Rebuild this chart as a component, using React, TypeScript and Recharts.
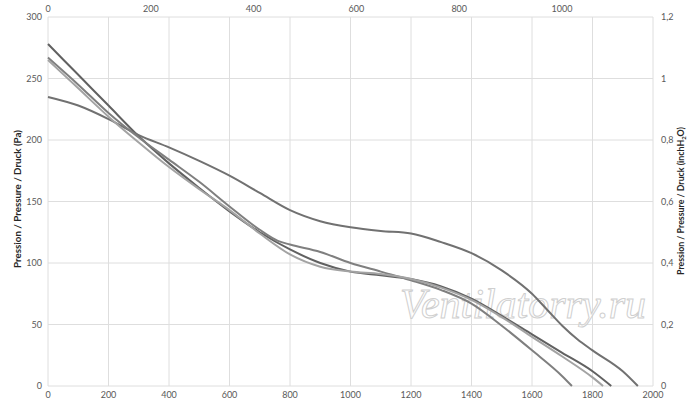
import { LineChart, Line, XAxis, YAxis, CartesianGrid } from "recharts"

// airflow in m3/h (bottom axis), pressure in Pa (left axis)
const flowA = [0, 100, 200, 300, 400, 500, 600, 700, 800, 900, 1000, 1100, 1200, 1300, 1400, 1500, 1600, 1700, 1800, 1862]
const pressureA = [278, 253, 228, 203, 181, 161, 142, 125, 111, 100, 93, 90, 87, 81, 71, 57, 42, 27, 12, 0]

const flowB = [0, 100, 200, 300, 400, 500, 600, 700, 800, 900, 1000, 1100, 1200, 1300, 1400, 1500, 1600, 1650, 1700, 1750, 1800, 1900, 1950]
const pressureB = [235, 228, 217, 204, 194, 183, 171, 157, 143, 134, 129, 126, 124, 117, 108, 94, 75, 62, 49, 38, 29, 12, 0]

const flowC = [0, 100, 200, 300, 400, 500, 600, 700, 760, 800, 900, 1000, 1100, 1200, 1300, 1400, 1500, 1600, 1700, 1732]
const pressureC = [267, 245, 222, 202, 184, 166, 146, 127, 118, 115, 109, 100, 93, 86, 78, 67, 49, 29, 8, 0]

const flowD = [0, 100, 200, 300, 400, 500, 600, 700, 800, 900, 1000, 1100, 1200, 1300, 1400, 1500, 1600, 1700, 1800, 1835]
const pressureD = [265, 242, 219, 198, 178, 160, 143, 124, 107, 97, 93, 91, 87, 80, 70, 56, 40, 24, 7, 0]

// secondary scales: CFM (top) and inch H2O (right)
const cfmRange = [0, 1177]
const inchRange = [0, 1.2]

const flowTicks = [0, 200, 400, 600, 800, 1000, 1200, 1400, 1600, 1800, 2000]
const cfmTicks = [0, 200, 400, 600, 800, 1000]
const paTicks = [0, 50, 100, 150, 200, 250, 300]
const inchTicks = [0, 0.2, 0.4, 0.6, 0.8, 1, 1.2]

const toPoints = (flow: number[], pressure: number[]) =>
  flow.map((q, i) => ({ q, p: pressure[i] }))

const curves = [
  { name: "A", data: toPoints(flowA, pressureA), color: "#616161" },
  { name: "B", data: toPoints(flowB, pressureB), color: "#717171" },
  { name: "C", data: toPoints(flowC, pressureC), color: "#7f7f7f" },
  { name: "D", data: toPoints(flowD, pressureD), color: "#a3a3a3" },
]

// invisible series so the top and right axes get drawn
const secondaryData = cfmRange.map((c, i) => ({ c, h: inchRange[i] }))

const tickStyle = { fill: "#595959", fontSize: 9, fontFamily: "Lato" }
const titleStyle = { fill: "#262626", fontSize: 9, fontWeight: 700, fontFamily: "Lato" }

export default function App() {
  return (
    <div style={{ width: 700, height: 408 }}>
      <style>{"body{margin:0}"}</style>
      <LineChart width={700} height={408} margin={{ top: 2, right: 0, bottom: 0, left: 0 }}>
        <CartesianGrid xAxisId="bottom" yAxisId="left" stroke="#dedede" strokeWidth={1} />
        <XAxis
          xAxisId="bottom"
          dataKey="q"
          type="number"
          domain={[0, 2000]}
          ticks={flowTicks}
          height={22}
          tick={tickStyle}
          tickLine={false}
          axisLine={false}
          tickSize={0}
          tickMargin={6}
          allowDuplicatedCategory={false}
        />
        <XAxis
          xAxisId="top"
          dataKey="c"
          orientation="top"
          type="number"
          domain={cfmRange}
          ticks={cfmTicks}
          height={15}
          tick={tickStyle}
          tickLine={false}
          axisLine={false}
          tickSize={0}
          tickMargin={5}
        />
        <YAxis
          yAxisId="left"
          type="number"
          domain={[0, 300]}
          ticks={paTicks}
          width={48}
          tick={tickStyle}
          tickLine={false}
          axisLine={false}
          tickSize={0}
          tickMargin={6}
          label={{
            content: () => (
              <text
                x={21}
                y={199}
                transform="rotate(-90 21 199)"
                textAnchor="middle"
                textLength={138}
                lengthAdjust="spacingAndGlyphs"
                style={titleStyle}
              >
                Pression / Pressure / Druck (Pa)
              </text>
            ),
          }}
        />
        <YAxis
          yAxisId="right"
          orientation="right"
          type="number"
          domain={inchRange}
          ticks={inchTicks}
          width={47}
          tick={tickStyle}
          tickLine={false}
          axisLine={false}
          tickSize={0}
          tickMargin={8}
          tickFormatter={(v: number) => String(v).replace(".", ",")}
          label={{
            content: () => (
              <text
                x={684}
                y={201}
                transform="rotate(-90 684 201)"
                textAnchor="middle"
                style={titleStyle}
                textLength={148}
                lengthAdjust="spacingAndGlyphs"
              >
                Pression / Pressure / Druck (inchH
                <tspan fontSize={6} dy={2}>2</tspan>
                <tspan dy={-2}>O)</tspan>
              </text>
            ),
          }}
        />
        <Line
          xAxisId="top"
          yAxisId="right"
          data={secondaryData}
          dataKey="h"
          stroke="none"
          dot={false}
          activeDot={false}
          isAnimationActive={false}
        />
        {curves.map((c) => (
          <Line
            key={c.name}
            xAxisId="bottom"
            yAxisId="left"
            data={c.data}
            dataKey="p"
            type="monotone"
            stroke={c.color}
            strokeWidth={2}
            dot={false}
            activeDot={false}
            isAnimationActive={false}
          />
        ))}
        <text
          x={523}
          y={318}
          textAnchor="middle"
          fontFamily="Liberation Serif"
          fontStyle="italic"
          fontSize={42}
          fill="#ffffff"
          fillOpacity={0.6}
          stroke="#cfcfcf"
          strokeWidth={1}
        >
          Ventilatorry.ru
        </text>
      </LineChart>
    </div>
  )
}
